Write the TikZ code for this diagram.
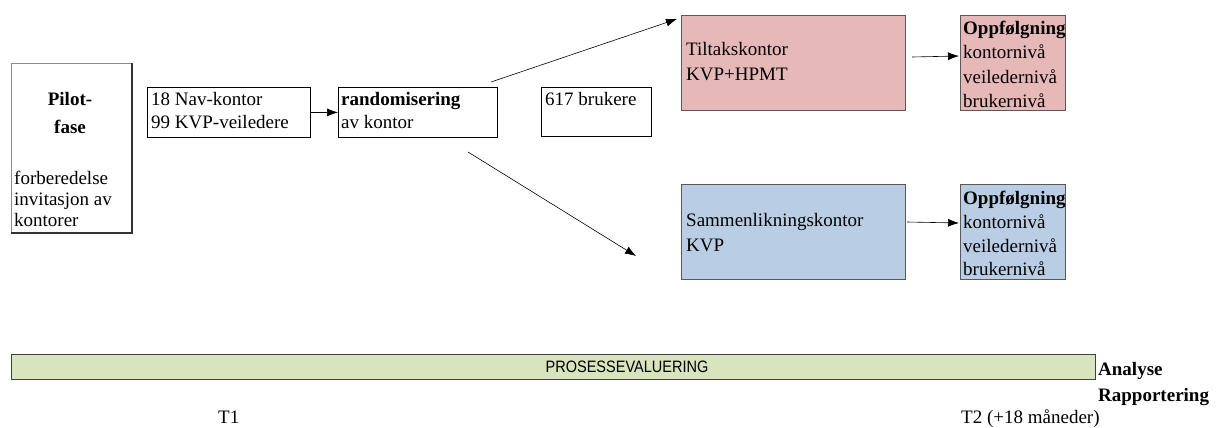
\documentclass[tikz,border=0pt]{standalone}
\usepackage{fontspec}
\setmainfont{Liberation Serif}
\newfontfamily\barfont{Liberation Sans}
\usetikzlibrary{arrows.meta,calc}
\definecolor{pinkc}{HTML}{E6B8B7}
\definecolor{bluec}{HTML}{B9CDE5}
\definecolor{greenc}{HTML}{D7E4BD}
\definecolor{edgec}{HTML}{595959}
\begin{document}
\begin{tikzpicture}[x=1pt,y=-1pt,
  plainbox/.style={draw=black, line width=0.8pt, inner sep=0pt, anchor=north west},
  colbox/.style={draw=edgec, line width=1pt, inner sep=0pt, anchor=north west},
  txt/.style={font=\fontsize{19}{23}\selectfont, inner sep=0pt, anchor=base west},
  btxt/.style={txt, font=\fontsize{19}{23}\selectfont\bfseries},
  arr/.style={-{Latex[length=11pt,width=8pt]}, line width=0.6pt}
]
\useasboundingbox (0,0) rectangle (1226,428);

% Pilot box
\node[colbox, draw=black!45, minimum width=120pt, minimum height=169pt] (pilot) at (11,63) {};
\draw[line width=1.6pt, black!80] (pilot.north east) -- (pilot.south east) -- (pilot.south west);
\node[btxt, anchor=base] (pilot1) at (70,106) {Pilot-};
\node[btxt, anchor=base] (pilot2) at (70,133) {fase};
\node[txt] (pilot3) at (14,184) {forberedelse};
\node[txt] (pilot4) at (14,205) {invitasjon av};
\node[txt] (pilot5) at (14,226) {kontorer};

% Nav box
\node[plainbox, minimum width=163pt, minimum height=50pt] (nav) at (147,87) {};
\node[txt] (nav1) at (151,105) {18 Nav-kontor};
\node[txt] (nav2) at (151,128) {99 KVP-veiledere};

% randomisering
\node[plainbox, minimum width=159pt, minimum height=50pt] (rand) at (338,87) {};
\node[btxt] (rand1) at (341,105) {randomisering};
\node[txt] (rand2) at (341,128) {av kontor};

% 617 brukere
\node[plainbox, minimum width=110pt, minimum height=49pt] (bruk) at (541,87) {};
\node[txt] (bruk1) at (545,105) {617 brukere};

% Tiltakskontor
\node[colbox, fill=pinkc, minimum width=224pt, minimum height=95pt] (tilt) at (681,15) {};
\node[txt] (tilt1) at (686,56) {Tiltakskontor};
\node[txt] (tilt2) at (686,81) {KVP+HPMT};

% Oppfolgning 1
\node[colbox, fill=pinkc, minimum width=105pt, minimum height=95pt] (opp1) at (960,15) {};
\node[btxt] (opp1a) at (963,35) {Oppfølgning};
\node[txt] (opp1b) at (963,59) {kontornivå};
\node[txt] (opp1c) at (963,83) {veiledernivå};
\node[txt] (opp1d) at (963,107) {brukernivå};

% Sammenlikningskontor
\node[colbox, fill=bluec, minimum width=224pt, minimum height=95pt] (samm) at (681,184) {};
\node[txt] (samm1) at (686,226) {Sammenlikningskontor};
\node[txt] (samm2) at (686,251) {KVP};

% Oppfolgning 2
\node[colbox, fill=bluec, minimum width=105pt, minimum height=95pt] (opp2) at (960,184) {};
\node[btxt] (opp2a) at (963,204) {Oppfølgning};
\node[txt] (opp2b) at (963,228) {kontornivå};
\node[txt] (opp2c) at (963,252) {veiledernivå};
\node[txt] (opp2d) at (963,275) {brukernivå};

% Arrows
\draw[arr] (nav.east) -- (rand.west);
\coordinate (upS) at (491,82);
\coordinate (upE) at (677,19);
\draw[arr] (upS) -- (upE);
\coordinate (dnS) at (468,152);
\coordinate (dnE) at (636,256);
\draw[arr] (dnS) -- (dnE);
\coordinate (t1S) at (912,57);
\coordinate (t1E) at (959,56);
\draw[arr] (t1S) -- (t1E);
\coordinate (s1S) at (907,222);
\coordinate (s1E) at (959,223);
\draw[arr] (s1S) -- (s1E);

% Process bar
\node[colbox, draw=black!75, fill=greenc, minimum width=1084pt, minimum height=25pt] (bar) at (11,354) {};
\node[font=\barfont\fontsize{16.5}{18}\selectfont, inner sep=0pt, xscale=0.88] (barlbl) at (627,367) {PROSESSEVALUERING};
\node[btxt] (ana) at (1098,375) {Analyse};
\node[btxt] (rap) at (1098,401) {Rapportering};
\node[txt] (t1) at (218,423) {T1};
\node[txt] (t2) at (961,423) {T2 (+18 måneder)};
\end{tikzpicture}
\end{document}
